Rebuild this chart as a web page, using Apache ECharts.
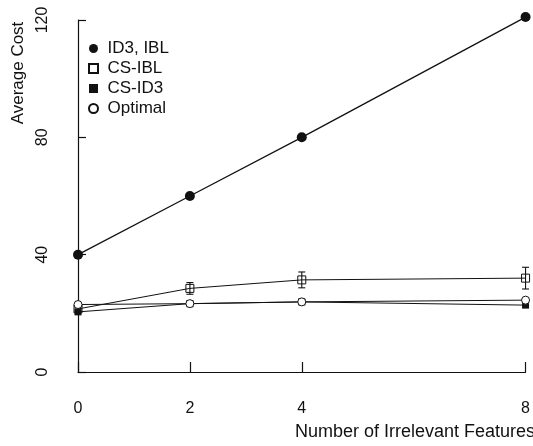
<!DOCTYPE html>
<html>
<head>
<meta charset="utf-8">
<script src="https://cdn.jsdelivr.net/npm/echarts@6/dist/echarts.min.js"></script>
<style>
  html, body { margin: 0; padding: 0; background: #fff; }
  #chart { width: 533px; height: 446px; }
</style>
</head>
<body>
<div id="chart"></div>
<script>
// Average cost versus number of irrelevant features
const features = [0, 2, 4, 8];
const xTicks = [0, 2, 4, 8];
const yTicks = [0, 40, 80, 120];

const id3Ibl = [40, 60, 80, 121];
const csIbl = [21.5, 28.5, 31.4, 32];
const csIblErr = [0.8, 2, 2.7, 3.7];
const csId3 = [20.5, 23.3, 23.9, 22.8];
const optimal = [23, 23.3, 23.9, 24.5];

const FONT = '"Liberation Sans", Arial, Helvetica, sans-serif';
const INK = '#111';
const SQUARE = 'path://M0,0H10V10H0Z';

const pairs = (ys) => features.map((x, i) => [x, ys[i]]);
const errData = features.map((x, i) => [x, csIbl[i] - csIblErr[i], csIbl[i] + csIblErr[i]]);

const chart = echarts.init(document.getElementById('chart'), null, { renderer: 'canvas' });

chart.setOption({
  animation: false,
  backgroundColor: '#fff',
  grid: { left: 78, right: 7, top: 20, bottom: 74 },
  xAxis: {
    type: 'value', min: 0, max: 8,
    offset: 16,
    axisLine: { show: true, lineStyle: { color: INK, width: 1.2 } },
    axisTick: { show: true, inside: true, length: 10, customValues: xTicks, lineStyle: { color: INK, width: 1.2 } },
    axisLabel: { customValues: xTicks, margin: 13, color: INK, fontFamily: FONT, fontSize: 16 },
    splitLine: { show: false }
  },
  yAxis: {
    type: 'value', min: 0, max: 120,
    offset: 19,
    axisLine: { show: true, lineStyle: { color: INK, width: 1.2 } },
    axisTick: { show: true, inside: true, length: 8, customValues: yTicks, lineStyle: { color: INK, width: 1.2 } },
    axisLabel: { customValues: yTicks, rotate: 90, margin: 8, color: INK, fontFamily: FONT, fontSize: 16 },
    splitLine: { show: false }
  },
  legend: {
    orient: 'vertical',
    left: 83, top: 35,
    itemWidth: 18, itemHeight: 9, itemGap: 3,
    symbolKeepAspect: true,
    textStyle: { color: INK, fontFamily: FONT, fontSize: 17 },
    data: [
      { name: 'ID3, IBL', icon: 'circle' },
      { name: 'CS-IBL', icon: SQUARE },
      { name: 'CS-ID3', icon: SQUARE },
      { name: 'Optimal', icon: 'circle' }
    ]
  },
  graphic: [
    {
      type: 'text', x: 18, y: 73, rotation: Math.PI / 2,
      style: { text: 'Average Cost', fill: INK, font: '17px ' + FONT, textAlign: 'center', textVerticalAlign: 'middle' }
    },
    {
      type: 'text', x: 295, y: 432,
      style: { text: 'Number of Irrelevant Features', fill: INK, font: '18px ' + FONT, textAlign: 'left', textVerticalAlign: 'middle' }
    }
  ],
  series: [
    {
      name: 'CS-IBL err', type: 'custom', z: 3,
      data: errData,
      renderItem: function (params, api) {
        const x = api.value(0);
        const lo = api.coord([x, api.value(1)]);
        const hi = api.coord([x, api.value(2)]);
        const w = 3.5;
        const st = { stroke: INK, lineWidth: 1.1 };
        return {
          type: 'group',
          children: [
            { type: 'line', shape: { x1: lo[0], y1: lo[1], x2: hi[0], y2: hi[1] }, style: st },
            { type: 'line', shape: { x1: lo[0] - w, y1: lo[1], x2: lo[0] + w, y2: lo[1] }, style: st },
            { type: 'line', shape: { x1: hi[0] - w, y1: hi[1], x2: hi[0] + w, y2: hi[1] }, style: st }
          ]
        };
      }
    },
    {
      name: 'ID3, IBL', type: 'line', data: pairs(id3Ibl), clip: false, z: 4,
      symbol: 'circle', symbolSize: 10,
      lineStyle: { color: INK, width: 1.3 },
      itemStyle: { color: INK, borderColor: INK, borderWidth: 0 }
    },
    {
      name: 'CS-IBL', type: 'line', data: pairs(csIbl), z: 5,
      symbol: SQUARE, symbolSize: 8,
      lineStyle: { color: INK, width: 1 },
      itemStyle: { color: 'rgba(255,255,255,0)', borderColor: INK, borderWidth: 1 }
    },
    {
      name: 'CS-ID3', type: 'line', data: pairs(csId3), z: 4,
      symbol: SQUARE, symbolSize: 7,
      lineStyle: { color: INK, width: 1 },
      itemStyle: { color: INK, borderColor: INK, borderWidth: 0 }
    },
    {
      name: 'Optimal', type: 'line', data: pairs(optimal), z: 6,
      symbol: 'circle', symbolSize: 8,
      lineStyle: { color: INK, width: 1 },
      itemStyle: { color: '#fff', borderColor: INK, borderWidth: 1 }
    }
  ]
});
</script>
</body>
</html>
